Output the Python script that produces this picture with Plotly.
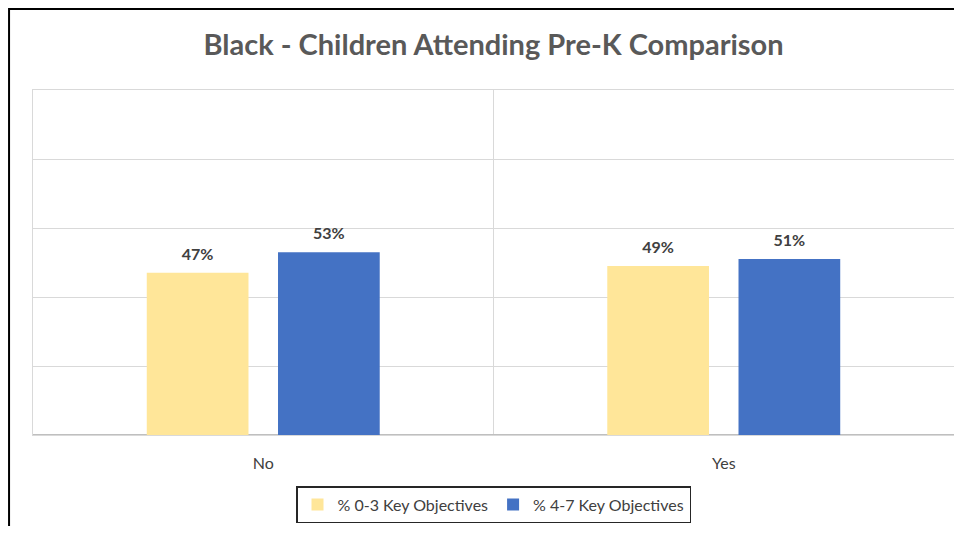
import plotly.graph_objects as go

categories = ["No", "Yes"]
pct_0_3 = [0.47, 0.49]
pct_4_7 = [0.53, 0.51]
series_names = ["% 0-3 Key Objectives", "% 4-7 Key Objectives"]
colors = ["#FFE699", "#4472C4"]

fig = go.Figure()
for name, vals, col in zip(series_names, [pct_0_3, pct_4_7], colors):
    fig.add_trace(go.Bar(
        x=categories,
        y=vals,
        name=name,
        marker=dict(color=col, line=dict(width=0)),
        text=[f"{v:.0%}" for v in vals],
        textposition="outside",
        textfont=dict(family="Lato", size=7, color="#404040"),
        # small spacer line lifts the label a bit further above the bar
        texttemplate="<span style='font-size:16px'><b>%{text}</b></span><br> ",
        cliponaxis=False,
    ))

# page body has an 8px margin, so the figure is sized to fit the window
fig.update_layout(
    width=946,
    height=518,
    margin=dict(l=25, r=0, t=82, b=91),
    paper_bgcolor="white",
    plot_bgcolor="white",
    barmode="group",
    bargap=0.43,
    bargroupgap=0.225,
    title=dict(
        text="<b>Black - Children Attending Pre-K Comparison</b>",
        xref="paper",
        x=0.5,
        xanchor="center",
        y=0.929,
        yanchor="middle",
        font=dict(family="Lato", size=29, color="#595959"),
    ),
    font=dict(family="Lato", color="#404040"),
    legend=dict(
        orientation="h",
        x=0.5,
        xanchor="center",
        y=-0.148,
        yanchor="top",
        bordercolor="#262626",
        borderwidth=1.5,
        font=dict(size=16, color="#404040"),
        itemwidth=30,
        traceorder="normal",
    ),
    showlegend=True,
)

fig.update_xaxes(
    type="category",
    tickson="boundaries",
    showgrid=True,
    gridcolor="#d9d9d9",
    showline=True,
    linecolor="#d9d9d9",
    mirror=True,
    ticks="",
    ticklabelstandoff=14,
    tickfont=dict(family="Lato", size=16, color="#404040"),
)
fig.update_yaxes(
    range=[0, 1],
    dtick=0.2,
    showgrid=True,
    gridcolor="#d9d9d9",
    showticklabels=False,
    zeroline=True,
    zerolinecolor="#bfbfbf",
    showline=True,
    linecolor="#d9d9d9",
    mirror=True,
)

# outer chart border (partly off-canvas in the reference)
fig.add_shape(
    type="rect", xref="paper", yref="paper",
    x0=-0.026, x1=1.2, y0=-0.6, y1=1.235,
    line=dict(color="black", width=2),
    fillcolor="rgba(0,0,0,0)",
    layer="above",
)

fig.write_html("out.html")
